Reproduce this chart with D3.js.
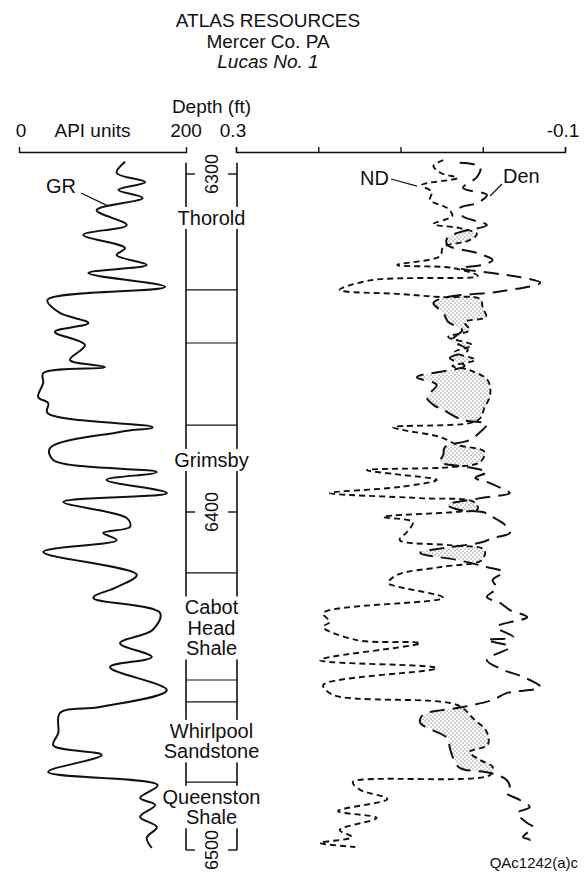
<!DOCTYPE html>
<html>
<head>
<meta charset="utf-8">
<script src="https://cdn.jsdelivr.net/npm/d3@7"></script>
<style>
	body { margin: 0; background: #fff; }
	svg text { font-family: "Liberation Sans", Arial, Helvetica, sans-serif; fill: #111; }
</style>
</head>
<body>
<div id="logDiv"></div>
<script>
const titleLines = ["ATLAS RESOURCES", "Mercer Co. PA", "Lucas No. 1"];

const grDepth = [6296.4, 6299.7, 6302.4, 6304.7, 6307.1, 6310.7, 6315.1, 6318.0, 6321.9, 6324.0,
	6326.9, 6329.3, 6333.4, 6337.3, 6341.1, 6344.1, 6346.7, 6350.6, 6355.0, 6357.1,
	6358.9, 6361.8, 6366.0, 6367.8, 6370.7, 6374.9, 6376.3, 6381.1, 6384.6, 6388.2,
	6390.5, 6394.4, 6397.0, 6401.8, 6404.4, 6406.2, 6408.3, 6411.8, 6418.6, 6422.2,
	6425.4, 6429.9, 6434.9, 6438.8, 6442.9, 6445.9, 6452.7, 6457.7, 6459.5, 6465.4,
	6469.0, 6471.9, 6476.9, 6480.8, 6484.6, 6486.7, 6490.2, 6493.2, 6496.4, 6499.4];
const grApi = [127, 117, 151, 119, 148, 93, 129, 77, 127, 117,
	153, 83, 175, 34, 49, 83, 43, 79, 61, 103,
	29, 29, 23, 35, 34, 160, 121, 37, 41, 165,
	105, 177, 53, 129, 133, 101, 117, 29, 141, 117,
	89, 169, 160, 121, 159, 109, 177, 97, 49, 47,
	41, 99, 35, 166, 145, 163, 145, 165, 153, 159];

// neutron-density (ND) porosity
const ndDepth = [6295.9, 6297.6, 6299.7, 6301.2, 6303.3, 6305.3, 6307.7, 6310.1, 6312.4, 6314.8,
	6316.0, 6317.8, 6319.8, 6321.6, 6324.3, 6326.9, 6327.8, 6330.2, 6331.4, 6334.3,
	6335.5, 6336.4, 6337.0, 6339.6, 6342.3, 6343.8, 6346.2, 6348.2, 6350.6, 6352.7,
	6355.0, 6356.8, 6358.0, 6361.0, 6365.4, 6369.2, 6372.2, 6373.7, 6374.9, 6375.7,
	6377.8, 6380.2, 6382.2, 6385.2, 6386.7, 6387.6, 6388.8, 6390.5, 6392.6, 6394.4,
	6395.9, 6397.0, 6399.1, 6400.0, 6401.5, 6403.0, 6405.9, 6408.3, 6409.8, 6411.2,
	6414.2, 6416.3, 6418.6, 6421.0, 6422.2, 6425.4, 6429.9, 6432.5, 6434.0, 6437.9,
	6438.8, 6443.8, 6446.2, 6451.2, 6454.1, 6457.1, 6461.0, 6465.1, 6468.9, 6471.0,
	6473.4, 6475.4, 6477.8, 6479.9, 6482.2, 6484.9, 6488.5, 6490.5, 6494.1, 6496.2,
	6497.9, 6499.1];
const ndPor = [0.048, 0.060, 0.051, 0.031, 0.074, 0.062, 0.064, 0.043, 0.037, 0.060,
	0.028, 0.007, 0.018, 0.048, 0.052, 0.104, 0.037, 0.006, 0.135, 0.174,
	0.101, 0.052, 0.003, 0.000, -0.004, 0.022, 0.016, 0.042, 0.013, 0.034,
	0.009, 0.037, 0.016, -0.006, -0.009, -0.002, 0.003, 0.016, 0.109, 0.098,
	0.052, 0.030, -0.002, 0.003, 0.037, 0.141, 0.107, 0.056, 0.101, 0.186,
	0.076, 0.011, 0.006, 0.034, 0.121, 0.085, 0.092, 0.101, 0.040, -0.002,
	0.001, 0.052, 0.104, 0.115, 0.101, 0.048, 0.194, 0.186, 0.194, 0.153,
	0.076, 0.198, 0.056, 0.194, 0.182, 0.031, 0.012, -0.005, -0.006, 0.016,
	0.003, -0.012, -0.009, 0.158, 0.149, 0.116, 0.176, 0.129, 0.174, 0.159,
	0.198, 0.155];

// density (Den) porosity
const denDepth = [6296.7, 6297.9, 6300.9, 6304.1, 6306.2, 6308.6, 6310.1, 6312.4, 6315.1, 6317.2,
	6318.9, 6321.0, 6323.4, 6325.4, 6326.9, 6327.8, 6330.5, 6332.2, 6334.9, 6336.4,
	6338.2, 6341.1, 6343.8, 6346.2, 6349.1, 6352.1, 6354.4, 6356.8, 6360.1, 6362.4,
	6366.0, 6368.3, 6369.8, 6372.8, 6374.0, 6376.3, 6378.7, 6380.8, 6383.1, 6385.2,
	6386.7, 6388.2, 6389.9, 6391.1, 6393.5, 6394.4, 6395.9, 6397.9, 6399.4, 6400.0,
	6401.5, 6403.8, 6406.2, 6407.7, 6408.9, 6412.1, 6414.2, 6416.3, 6417.8, 6420.1,
	6422.5, 6425.1, 6426.9, 6429.0, 6431.1, 6434.0, 6437.0, 6437.9, 6439.9, 6443.8,
	6446.7, 6448.8, 6451.8, 6453.6, 6455.6, 6457.7, 6460.1, 6462.4, 6466.9, 6469.8,
	6472.8, 6475.7, 6477.2, 6479.3, 6481.7, 6483.1, 6485.2, 6487.3, 6489.1, 6492.0,
	6493.2, 6496.2, 6497.0, 6498.5];
const denPor = [0.028, 0.003, 0.007, 0.024, -0.005, 0.007, 0.028, 0.025, -0.005, 0.028,
	0.043, 0.043, 0.007, -0.012, 0.000, 0.028, -0.045, -0.070, -0.017, 0.043,
	0.060, 0.048, 0.042, 0.025, 0.037, 0.018, 0.040, 0.022, 0.080, 0.056,
	0.068, 0.060, 0.048, 0.024, -0.005, 0.003, 0.016, 0.046, 0.048, 0.052,
	0.019, -0.005, 0.009, -0.005, -0.027, -0.033, 0.003, 0.043, 0.028, 0.000,
	-0.012, -0.027, -0.033, -0.012, 0.000, 0.076, 0.031, -0.005, -0.025, -0.012,
	-0.017, -0.005, -0.021, -0.033, -0.054, -0.017, -0.037, -0.005, -0.033, -0.005,
	-0.025, -0.049, -0.070, -0.029, -0.012, 0.024, 0.073, 0.076, 0.043, 0.040,
	0.036, 0.028, -0.009, -0.029, -0.033, -0.029, -0.045, -0.057, -0.042, -0.054,
	-0.061, -0.049, -0.057, -0.054];

const depthTicks = [6300, 6400, 6500];
const porTicks = [0.3, 0.2, 0.1, 0.0, -0.1];
const formationTops = [6334.3, 6350.0, 6374.3, 6418.0, 6449.7, 6456.2, 6479.9];
const formationNames = [["Thorold"], ["Grimsby"], ["Cabot", "Head", "Shale"], ["Whirlpool", "Sandstone"], ["Queenston", "Shale"]];
const formationLabelDepths = [6313.0, 6384.6, 6434.3, 6467.8, 6487.3];

// ---- layout ----
const W = 588, H = 874;
const depthTop = 6296.7;
const trackL = 186, trackR = 237;
const trackMid = (trackL + trackR) / 2;

const svg = d3.select('#logDiv').append('svg')
	.attr('width', W)
	.attr('height', H)
	.style('display', 'block');

const y = d3.scaleLinear().domain([6300, 6500]).range([174, 850]);
const grX = d3.scaleLinear().domain([0, 200]).range([19, 186]);
const porX = d3.scaleLinear().domain([0.3, -0.1]).range([236, 565]);

const curve = d3.curveCatmullRom.alpha(0.5);

// title
svg.append('g').selectAll('text')
	.data(titleLines)
	.enter().append('text')
	.attr('x', 268)
	.attr('y', (d, i) => 27 + i * 20.5)
	.attr('text-anchor', 'middle')
	.style('font-size', '19px')
	.style('font-style', (d, i) => i == 2 ? 'italic' : 'normal')
	.text(d => d);

// header brackets
const grAxis = d3.axisTop(grX).tickValues([]).tickSizeOuter(5);
svg.append('g').attr('transform', 'translate(0,152)').call(grAxis);
const porAxis = d3.axisTop(porX).tickValues(porTicks).tickSizeInner(5).tickSizeOuter(5).tickFormat('');
svg.append('g').attr('transform', 'translate(0,152)').call(porAxis);
svg.selectAll('.domain, .tick line').attr('stroke', '#111').attr('stroke-width', 1.4);

const hdr = svg.append('g').style('font-size', '19px').attr('text-anchor', 'middle');
hdr.append('text').attr('x', grX(0) + 2).attr('y', 137).text('0');
hdr.append('text').attr('x', grX(200)).attr('y', 137).text('200');
hdr.append('text').attr('x', (grX(0) + grX(200)) / 2 - 10).attr('y', 137).text('API units');
hdr.append('text').attr('x', porX(0.3) - 3).attr('y', 137).text('0.3');
hdr.append('text').attr('x', porX(-0.1) - 2).attr('y', 137).text('-0.1');
hdr.append('text').attr('x', trackMid).attr('y', 113).text('Depth (ft)');

// depth track
const trk = svg.append('g');
[trackL, trackR].forEach(xx => {
	trk.append('line')
		.attr('x1', xx).attr('x2', xx)
		.attr('y1', y(depthTop)).attr('y2', y(6500))
		.attr('stroke', '#111').attr('stroke-width', 1.6);
});
trk.selectAll('line.top')
	.data(formationTops)
	.enter().append('line')
	.attr('class', 'top')
	.attr('x1', trackL).attr('x2', trackR)
	.attr('y1', d => y(d)).attr('y2', d => y(d))
	.attr('stroke', '#111').attr('stroke-width', 1.2);

depthTicks.forEach(d => {
	trk.append('line').attr('x1', trackL).attr('x2', trackL + 9)
		.attr('y1', y(d)).attr('y2', y(d)).attr('stroke', '#111').attr('stroke-width', 1.4);
	trk.append('line').attr('x1', trackR - 9).attr('x2', trackR)
		.attr('y1', y(d)).attr('y2', y(d)).attr('stroke', '#111').attr('stroke-width', 1.4);
	trk.append('text')
		.attr('transform', `translate(${trackMid + 6},${y(d)}) rotate(-90)`)
		.attr('text-anchor', 'middle')
		.style('font-size', '18px')
		.text(d);
});

// gamma ray
const grData = grDepth.map((d, i) => ({depth: d, v: grApi[i]}));
svg.append('path')
	.datum(grData)
	.attr('d', d3.line().x(d => grX(d.v)).y(d => y(d.depth)).curve(curve))
	.attr('fill', 'none')
	.attr('stroke', '#111')
	.attr('stroke-width', 2)
	.attr('stroke-linejoin', 'round');

// formation labels, white box behind to break the track lines
formationNames.forEach((lines, i) => {
	const cy = y(formationLabelDepths[i]);
	const lh = 20.5;
	const g = svg.append('g');
	const t = g.append('text')
		.attr('text-anchor', 'middle')
		.style('font-size', '20px');
	lines.forEach((ln, j) => {
		t.append('tspan')
			.attr('x', trackMid)
			.attr('y', cy + (j - (lines.length - 1) / 2) * lh + 7)
			.text(ln);
	});
	const bb = t.node().getBBox();
	g.insert('rect', 'text')
		.attr('x', trackL - 2).attr('width', trackR - trackL + 4)
		.attr('y', bb.y).attr('height', bb.height)
		.attr('fill', '#fff');
});

// porosity curves + crossover stipple
const ndData = ndDepth.map((d, i) => ({depth: d, v: ndPor[i]}));
const denData = denDepth.map((d, i) => ({depth: d, v: denPor[i]}));

const defs = svg.append('defs');
const pat = defs.append('pattern')
	.attr('id', 'stipple')
	.attr('patternUnits', 'userSpaceOnUse')
	.attr('width', 4).attr('height', 4);
pat.append('circle').attr('cx', 1).attr('cy', 1).attr('r', 0.6).attr('fill', '#333');
pat.append('circle').attr('cx', 3).attr('cy', 3).attr('r', 0.6).attr('fill', '#333');

const leftOfNd = d3.area().y(d => y(d.depth)).x0(porX(0.3) - 20).x1(d => porX(d.v)).curve(curve);
const rightOfDen = d3.area().y(d => y(d.depth)).x0(d => porX(d.v)).x1(porX(-0.1) + 20).curve(curve);

defs.append('clipPath').attr('id', 'ndClip')
	.append('path').attr('d', leftOfNd(ndData));

svg.append('path')
	.attr('d', rightOfDen(denData))
	.attr('fill', 'url(#stipple)')
	.attr('clip-path', 'url(#ndClip)');

const porLine = d3.line().x(d => porX(d.v)).y(d => y(d.depth)).curve(curve);
svg.append('path').datum(ndData)
	.attr('d', porLine)
	.attr('fill', 'none').attr('stroke', '#111')
	.attr('stroke-width', 1.9).attr('stroke-dasharray', '6,4');
svg.append('path').datum(denData)
	.attr('d', porLine)
	.attr('fill', 'none').attr('stroke', '#111')
	.attr('stroke-width', 2).attr('stroke-dasharray', '15,8');

// curve labels with leaders
const lab = svg.append('g').style('font-size', '20px');
lab.append('text').attr('x', 46).attr('y', 193).text('GR');
lab.append('line').attr('x1', 81).attr('y1', 193).attr('x2', grX(107)).attr('y2', y(6309.5))
	.attr('stroke', '#111').attr('stroke-width', 1.2);
lab.append('text').attr('x', 389).attr('y', 185).attr('text-anchor', 'end').text('ND');
lab.append('line').attr('x1', 391).attr('y1', 179).attr('x2', porX(0.080)).attr('y2', y(6303.6))
	.attr('stroke', '#111').attr('stroke-width', 1.2);
lab.append('text').attr('x', 503).attr('y', 183).text('Den');
lab.append('line').attr('x1', 502).attr('y1', 184).attr('x2', porX(-0.009)).attr('y2', y(6306.5))
	.attr('stroke', '#111').attr('stroke-width', 1.2);

svg.append('text')
	.attr('x', 578).attr('y', 868)
	.attr('text-anchor', 'end')
	.style('font-size', '15px')
	.text('QAc1242(a)c');
</script>
</body>
</html>
